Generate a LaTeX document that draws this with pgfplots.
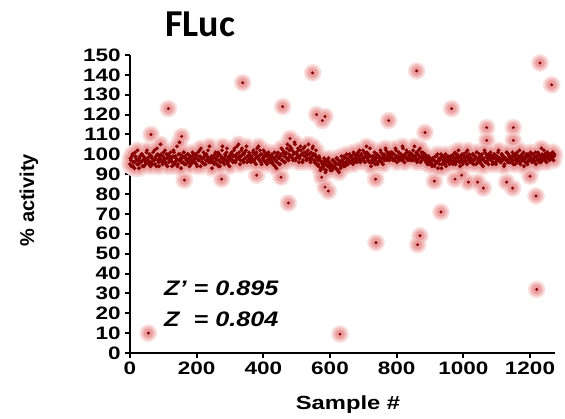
\documentclass[border=0pt]{standalone}
\usepackage{pgfplots}
\usepackage{pgfplotstable}
\pgfplotsset{compat=1.18}
\usepackage{fontspec}
\setmainfont{Liberation Sans}
\newfontfamily\carlito{Carlito}
\definecolor{dotred}{RGB}{135,0,0}
\definecolor{haloA}{RGB}{250,222,222}
\definecolor{haloB}{RGB}{243,190,190}
\definecolor{haloC}{RGB}{235,158,158}

% band of samples, one value every 3 samples (x = 0,3,6,...)
\pgfplotstableread[row sep=\\]{
y\\
95\\97\\99\\94\\96\\101\\98\\95\\97\\93\\99\\96\\100\\97\\94\\98\\96\\102\\97\\95\\99\\
96\\98\\101\\97\\95\\99\\103\\97\\94\\98\\100\\96\\99\\97\\102\\95\\98\\100\\96\\99\\
97\\94\\99\\101\\96\\98\\104\\95\\97\\100\\93\\98\\96\\101\\99\\95\\97\\100\\98\\96\\
95\\99\\97\\100\\96\\98\\94\\101\\97\\99\\103\\96\\98\\95\\100\\97\\99\\102\\96\\98\\
97\\93\\99\\96\\100\\98\\95\\101\\97\\94\\99\\102\\96\\98\\100\\97\\103\\95\\99\\97\\
98\\100\\96\\102\\99\\97\\104\\98\\101\\95\\99\\103\\97\\100\\98\\102\\96\\99\\101\\97\\
96\\99\\101\\97\\100\\95\\103\\98\\99\\102\\96\\100\\98\\97\\101\\99\\95\\100\\98\\96\\
97\\100\\95\\98\\94\\99\\96\\101\\98\\95\\100\\97\\102\\99\\96\\101\\103\\98\\100\\104\\
99\\102\\97\\101\\105\\98\\100\\103\\96\\99\\102\\100\\97\\101\\104\\99\\98\\102\\100\\97\\
101\\99\\104\\97\\100\\102\\98\\95\\99\\97\\93\\96\\94\\98\\95\\92\\97\\94\\96\\93\\
95\\92\\97\\94\\96\\93\\98\\95\\91\\96\\94\\97\\95\\99\\94\\96\\98\\95\\97\\99\\
96\\98\\95\\100\\97\\99\\96\\101\\98\\97\\100\\99\\102\\98\\96\\100\\101\\97\\99\\103\\
94\\97\\96\\99\\95\\98\\100\\96\\99\\97\\101\\98\\95\\100\\99\\102\\97\\100\\98\\101\\
99\\101\\97\\100\\98\\102\\96\\99\\101\\98\\100\\97\\103\\99\\100\\98\\101\\97\\99\\100\\
98\\100\\102\\97\\99\\101\\96\\100\\98\\103\\99\\97\\101\\98\\100\\96\\99\\97\\95\\98\\
96\\94\\98\\97\\95\\99\\96\\93\\98\\97\\100\\95\\99\\96\\98\\94\\97\\99\\96\\98\\
97\\99\\95\\98\\101\\96\\100\\97\\99\\94\\98\\100\\96\\99\\97\\101\\95\\98\\100\\96\\
98\\96\\100\\97\\99\\95\\101\\98\\96\\99\\97\\100\\94\\98\\101\\96\\99\\97\\100\\98\\
97\\99\\96\\100\\98\\95\\99\\101\\97\\98\\96\\100\\99\\94\\98\\97\\101\\96\\99\\98\\
96\\99\\97\\100\\95\\98\\101\\97\\99\\96\\98\\100\\97\\94\\99\\98\\96\\100\\97\\99\\
98\\96\\100\\97\\99\\95\\98\\101\\97\\99\\96\\100\\98\\102\\97\\99\\101\\98\\100\\99\\
100\\98\\101\\99\\
}\bandtable

% second half of the band (x = 1.5, 4.5, 7.5, ...)
\pgfplotstableread[row sep=\\]{
y\\
98\\94\\100\\96\\93\\99\\97\\102\\95\\98\\96\\100\\94\\99\\97\\95\\101\\98\\96\\100\\94\\
99\\95\\97\\102\\98\\94\\100\\96\\99\\105\\97\\95\\101\\98\\96\\100\\94\\99\\97\\101\\
98\\96\\102\\95\\99\\97\\94\\100\\106\\98\\96\\99\\101\\95\\98\\97\\100\\96\\94\\99\\
97\\101\\96\\98\\100\\95\\99\\97\\102\\94\\98\\96\\101\\99\\95\\100\\97\\98\\104\\96\\
99\\96\\98\\95\\101\\97\\99\\94\\100\\96\\98\\104\\97\\95\\99\\101\\96\\98\\94\\100\\
101\\97\\99\\103\\96\\100\\98\\105\\99\\97\\102\\100\\96\\101\\98\\104\\99\\97\\100\\98\\
99\\97\\102\\96\\98\\101\\99\\104\\97\\100\\95\\98\\102\\99\\96\\100\\97\\101\\99\\98\\
99\\96\\98\\101\\97\\93\\100\\98\\95\\99\\103\\97\\101\\96\\100\\98\\105\\97\\102\\99\\
103\\98\\100\\106\\97\\101\\99\\102\\98\\104\\100\\96\\103\\99\\101\\97\\100\\105\\98\\96\\
98\\103\\100\\96\\99\\95\\97\\94\\98\\92\\96\\95\\93\\97\\91\\96\\94\\98\\95\\92\\
94\\97\\93\\96\\95\\98\\92\\97\\95\\93\\99\\96\\94\\98\\96\\100\\95\\97\\100\\96\\
99\\97\\101\\96\\98\\100\\97\\99\\102\\96\\100\\98\\97\\101\\99\\104\\98\\100\\96\\99\\
96\\99\\98\\101\\97\\100\\95\\99\\98\\102\\96\\100\\99\\97\\103\\98\\101\\99\\97\\100\\
101\\98\\100\\97\\103\\99\\98\\101\\97\\100\\99\\104\\98\\96\\100\\102\\98\\99\\101\\97\\
100\\97\\99\\104\\98\\100\\97\\102\\99\\96\\101\\98\\100\\99\\97\\98\\95\\99\\96\\97\\
95\\98\\97\\94\\99\\96\\100\\97\\95\\98\\93\\99\\97\\95\\100\\96\\98\\97\\95\\99\\
99\\96\\100\\97\\95\\99\\98\\102\\96\\99\\97\\95\\100\\98\\96\\99\\102\\97\\99\\97\\
97\\100\\95\\99\\98\\101\\96\\97\\100\\99\\95\\98\\97\\102\\96\\100\\98\\95\\99\\101\\
99\\95\\98\\100\\96\\99\\97\\102\\98\\96\\100\\97\\99\\95\\98\\101\\97\\100\\96\\98\\
98\\101\\95\\99\\97\\100\\96\\98\\102\\95\\99\\97\\101\\98\\96\\100\\95\\99\\97\\101\\
97\\100\\98\\96\\101\\99\\97\\100\\96\\98\\103\\97\\99\\100\\98\\96\\101\\99\\97\\100\\
99\\101\\97\\100\\
}\bandtableb

% outlying samples
\pgfplotstableread{
x y
63 110
115 123
155 109
338 136
458 124
480 108
548 141
560 120
585 119
577 117
776 117
860 142
885 111
965 123
1070 113.5
1070 107
1150 113.5
1150 107
1230 146
1265 135
163 87
275 87.5
380 89.5
453 88.5
475 75.5
575 88.5
585 83.5
595 81.5
737 87.5
738 55.5
870 59
863 54.5
913 86.5
933 71
975 87.5
995 89.5
1015 86
1043 86
1060 83
1130 86
1148 83
1200 89
1218 79
55 10
630 9.5
1220 32
}\outtable

\begin{document}
\begin{tikzpicture}
\path[use as bounding box] (-130pt,-66pt) rectangle (435pt,353pt);
\begin{axis}[
  at={(0pt,0pt)}, anchor=south west,
  scale only axis, width=425pt, height=298pt,
  xmin=0, xmax=1275, ymin=0, ymax=150,
  axis lines=left,
  axis line style={-, line width=2.5pt, black},
  xtick={0,200,...,1200},
  ytick={0,10,...,150},
  tick align=outside,
  major tick length=5pt,
  tick style={line width=2pt, black},
  /pgf/number format/assume math mode=true,
  /pgf/number format/1000 sep={},
  ticklabel style={font=\fontsize{18}{18}\selectfont\bfseries, xscale=1.25},
  xlabel={Sample \#},
  ylabel={\% activity},
  xlabel style={font=\fontsize{19}{19}\selectfont\bfseries, xscale=1.25,
    at={(axis description cs:0.513,-0.174)}, anchor=center},
  ylabel style={font=\fontsize{20}{20}\selectfont\bfseries,
    at={(axis description cs:-0.238,0.513)}, anchor=center},
  clip=false,
]
% glow, outer to inner
\addplot[only marks, mark=*, mark size=8.5pt, color=haloA, mark options={draw=none}]
  table[x expr=\coordindex*3, y=y]{\bandtable};
\addplot[only marks, mark=*, mark size=8.5pt, color=haloA, mark options={draw=none}]
  table[x expr=\coordindex*3+1.5, y=y]{\bandtableb};
\addplot[only marks, mark=*, mark size=8.5pt, color=haloA, mark options={draw=none}]
  table[x=x, y=y]{\outtable};
\addplot[only marks, mark=*, mark size=6.5pt, color=haloB, mark options={draw=none}]
  table[x expr=\coordindex*3, y=y]{\bandtable};
\addplot[only marks, mark=*, mark size=6.5pt, color=haloB, mark options={draw=none}]
  table[x expr=\coordindex*3+1.5, y=y]{\bandtableb};
\addplot[only marks, mark=*, mark size=6.5pt, color=haloB, mark options={draw=none}]
  table[x=x, y=y]{\outtable};
\addplot[only marks, mark=*, mark size=4.5pt, color=haloC, mark options={draw=none}]
  table[x expr=\coordindex*3, y=y]{\bandtable};
\addplot[only marks, mark=*, mark size=4.5pt, color=haloC, mark options={draw=none}]
  table[x expr=\coordindex*3+1.5, y=y]{\bandtableb};
\addplot[only marks, mark=*, mark size=4.5pt, color=haloC, mark options={draw=none}]
  table[x=x, y=y]{\outtable};
% points
\addplot[only marks, mark=*, mark size=1.8pt, color=dotred, mark options={draw=none}]
  table[x expr=\coordindex*3, y=y]{\bandtable};
\addplot[only marks, mark=*, mark size=1.8pt, color=dotred, mark options={draw=none}]
  table[x expr=\coordindex*3+1.5, y=y]{\bandtableb};
\addplot[only marks, mark=*, mark size=1.3pt, color=dotred, mark options={draw=none}]
  table[x=x, y=y]{\outtable};
\node[anchor=west, font=\fontsize{21}{21}\selectfont\bfseries\itshape, xscale=1.2]
  at (axis cs:90,32.7) {Z’ = 0.895};
\node[anchor=west, font=\fontsize{21}{21}\selectfont\bfseries\itshape, xscale=1.2]
  at (axis cs:90,17.1) {Z\phantom{’} = 0.804};
\end{axis}
\node[anchor=base, font=\carlito\fontsize{38}{38}\selectfont\bfseries] at (70pt,316pt) {FLuc};
\end{tikzpicture}
\end{document}
